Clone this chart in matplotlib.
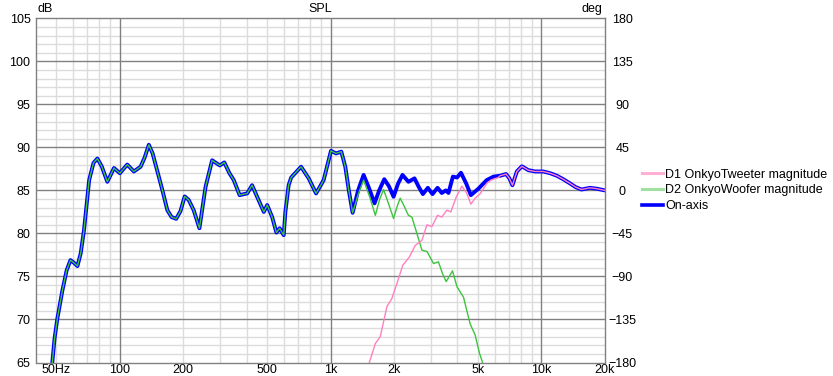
import matplotlib
matplotlib.use("Agg")
import matplotlib.pyplot as plt
from matplotlib.ticker import FixedLocator, NullFormatter, MultipleLocator
from matplotlib.lines import Line2D
import numpy as np

plt.rcParams['font.family'] = ['Liberation Sans', 'DejaVu Sans']

# ---- data ----
onaxis_f = [46.5, 47.8, 49.0, 50.5, 53.4, 55.9, 58.3, 60.5, 62.9, 65.2, 67.6, 71.5, 75.0, 78.2,
            82.0, 87.2, 93.8, 100, 108.4, 116.5, 125.4, 131, 137.2, 143, 153, 160, 168, 176,
            185, 194, 203, 212, 224, 238.5, 255, 274, 298, 313, 331, 347, 370, 402, 424, 448,
            482, 500, 528, 553, 573, 599, 610, 632, 650, 724, 787, 853, 927, 1004, 1061, 1124,
            1174, 1220, 1272, 1350, 1434, 1520, 1616, 1700, 1797, 1890, 1989, 2090, 2194,
            2340, 2500, 2620, 2741, 2893, 3044, 3216, 3370, 3522, 3625, 3803, 3980, 4155,
            4400, 4628, 5027, 5505, 5927, 6366, 6800, 7050, 7290, 7650, 8080, 8680, 9340,
            10200, 11000, 11850, 12700, 13700, 14500, 15500, 17000, 18300, 20000]
onaxis_db = [62.5, 65.0, 67.8, 70.1, 73.4, 75.7, 76.9, 76.6, 76.2, 77.7, 80.4, 86.2, 88.2, 88.7,
             87.8, 86.0, 87.6, 87.0, 88.0, 87.2, 87.75, 88.8, 90.3, 89.3, 86.6, 84.8, 82.7, 81.9,
             81.7, 82.6, 84.3, 83.9, 82.7, 80.6, 85.4, 88.5, 87.9, 88.25, 87.0, 86.2, 84.45, 84.65,
             85.6, 84.26, 82.5, 83.3, 81.9, 80.1, 80.6, 79.8, 82.5, 85.6, 86.5, 87.75, 86.4,
             84.65, 86.2, 89.6, 89.3, 89.5, 87.75, 85.0, 82.4, 85.0, 86.8, 85.3, 83.5, 85.0,
             86.3, 85.5, 84.26, 85.8, 86.8, 86.0, 86.4, 85.4, 84.57, 85.3, 84.57, 85.3, 84.7,
             85.0, 84.7, 86.6, 86.5, 87.05, 85.8, 84.45, 85.2, 86.2, 86.6, 86.7, 86.9, 86.4,
             85.6, 87.2, 87.8, 87.35, 87.2, 87.2, 87.0, 86.7, 86.3, 85.8, 85.4, 85.1, 85.3,
             85.2, 85.0]

woofer_f_hi = [1350, 1434, 1530, 1630, 1710, 1783, 1880, 1989, 2060, 2138, 2230, 2340, 2430,
               2567, 2713, 2865, 3078, 3247, 3400, 3536, 3788, 3978, 4270, 4590, 4850, 5090,
               5250, 5450]
woofer_db_hi = [84.5, 86.2, 84.3, 82.1, 84.0, 85.1, 83.5, 81.74, 83.0, 84.1, 83.2, 82.1, 81.9,
                80.0, 78.05, 77.9, 76.5, 76.7, 75.3, 74.4, 75.65, 73.8, 72.6, 69.5, 68.2, 66.05,
                65.07, 62.5]

tweeter_f_lo = [1400, 1530, 1630, 1720, 1850, 1950, 2065, 2200, 2370, 2520, 2713, 2865, 3025,
                3216, 3370, 3560, 3720, 3950, 4200, 4430, 4630, 4850, 5120, 5505, 5770, 6250]
tweeter_db_lo = [62.5, 65.07, 67.2, 68.0, 71.5, 72.4, 74.2, 76.3, 77.3, 78.6, 79.2, 81.0, 80.8,
                 82.1, 81.9, 82.7, 82.5, 84.26, 85.5, 84.65, 83.4, 84.1, 84.6, 85.8, 86.2, 86.5]

x_tick_vals = [50, 100, 200, 500, 1000, 2000, 5000, 10000, 20000]
x_tick_labels = ["50Hz", "100", "200", "500", "1k", "2k", "5k", "10k", "20k"]
legend_labels = ["D1 OnkyoTweeter magnitude", "D2 OnkyoWoofer magnitude", "On-axis"]

# woofer follows on-axis below ~1.27 kHz, tweeter follows on-axis above ~6.3 kHz
of = np.array(onaxis_f); od = np.array(onaxis_db)
woofer_f = np.concatenate([of[of <= 1272], woofer_f_hi])
woofer_db = np.concatenate([od[of <= 1272], woofer_db_hi])
tweeter_f = np.concatenate([tweeter_f_lo, of[of >= 6366]])
tweeter_db = np.concatenate([tweeter_db_lo, od[of >= 6366]])

# ---- figure ----
fig = plt.figure(figsize=(8.33, 3.76), dpi=100)
ax = fig.add_axes([36/833, 1 - 362.5/376, (604.8-36)/833, (362.5-18.3)/376])

major_c = '#808080'
minor_c = '#dcdcdc'

ax.set_xscale('log')
ax.set_xlim(40, 20000)
ax.set_ylim(65, 105)

# grid
minor_x = [m * 10**e for e in range(1, 5) for m in range(2, 10) if 40 < m * 10**e < 20000]
for v in minor_x:
    ax.axvline(v, color=minor_c, lw=1.0, zorder=0)
for v in np.arange(66, 105, 1):
    if v % 5 != 0:
        ax.axhline(v, color=minor_c, lw=1.0, zorder=0)
for v in [100, 1000, 10000]:
    ax.axvline(v, color=major_c, lw=1.0, zorder=0.5)
for v in np.arange(70, 105, 5):
    ax.axhline(v, color=major_c, lw=1.0, zorder=0.5)

ax.plot(onaxis_f, onaxis_db, color='#0000ff', lw=2.8, zorder=2,
        solid_joinstyle='round', solid_capstyle='round')
ax.plot(woofer_f, woofer_db, color='#3cc43c', lw=1.0, zorder=3, solid_joinstyle='round')
ax.plot(tweeter_f, tweeter_db, color='#ff80c0', lw=1.0, zorder=3, solid_joinstyle='round')

ax.xaxis.set_major_locator(FixedLocator(x_tick_vals))
ax.xaxis.set_minor_locator(FixedLocator([]))
ax.set_xticklabels(x_tick_labels)
ax.xaxis.set_minor_formatter(NullFormatter())
ax.yaxis.set_major_locator(MultipleLocator(5))
ax.tick_params(axis='both', length=0, labelsize=9, colors='black')
ax.tick_params(axis='x', pad=0.8)
ax.tick_params(axis='y', pad=4)

for s in ax.spines.values():
    s.set_color(major_c)
    s.set_linewidth(1.0)

ax2 = ax.twinx()
ax2.set_ylim(-180, 180)
ax2.yaxis.set_major_locator(MultipleLocator(45))
ax2.tick_params(axis='y', length=0, labelsize=9, pad=12.5)
for lab in ax2.get_yticklabels():
    lab.set_horizontalalignment('center')
for s in ax2.spines.values():
    s.set_visible(False)

fig.text(320.4/833, 1 - 8.5/376, "SPL", ha='center', va='center', fontsize=9)
fig.text(38/833, 1 - 9/376, "dB", ha='left', va='center', fontsize=9)
fig.text(602/833, 1 - 9/376, "deg", ha='right', va='center', fontsize=9)

handles = [Line2D([], [], color='#ffb0d4', lw=2.2),
           Line2D([], [], color='#a0e0a0', lw=2.2),
           Line2D([], [], color='#0000ff', lw=2.6)]
fig.legend(handles, legend_labels, loc='upper left',
           bbox_to_anchor=(641.5/833, 1 - 168.5/376), frameon=False, fontsize=9,
           handlelength=1.68, handletextpad=0.2, labelspacing=0.3, borderpad=0.0,
           borderaxespad=0.0)

fig.savefig("out.png", dpi=100)
